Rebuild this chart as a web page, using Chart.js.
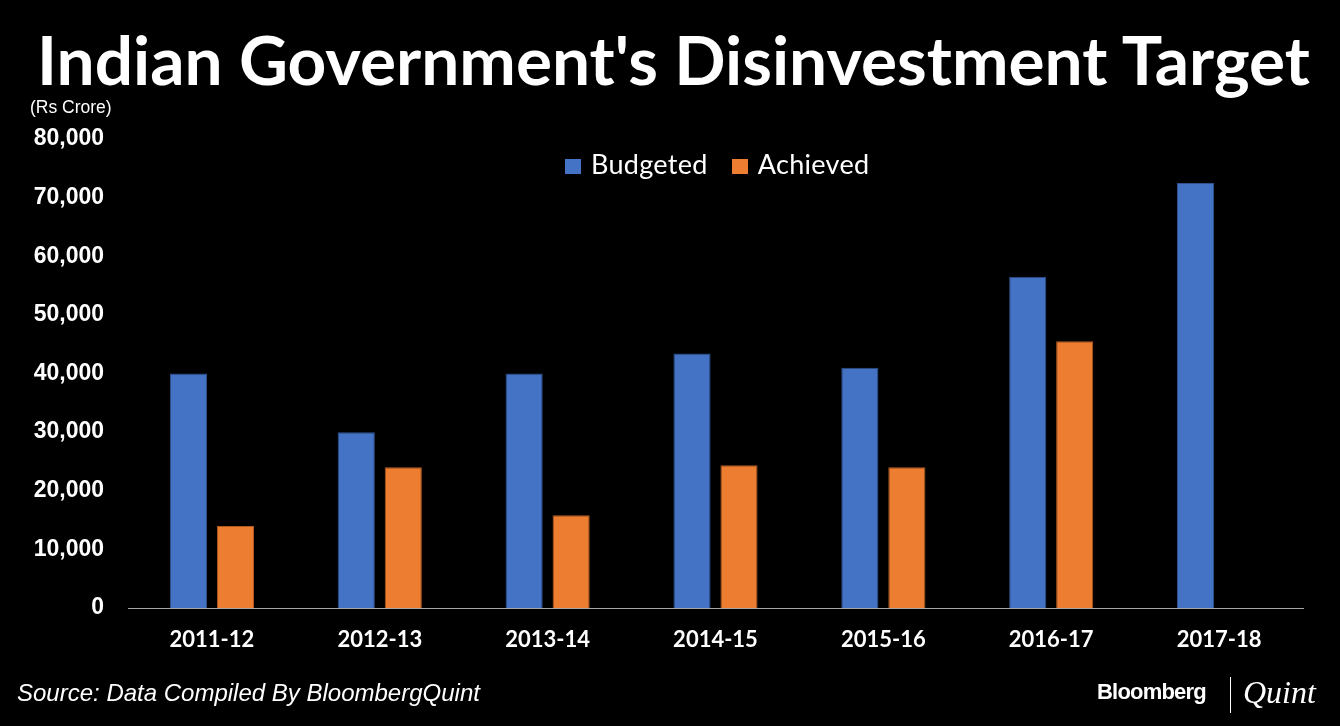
<!DOCTYPE html>
<html>
<head>
<meta charset="utf-8">
<script src="https://cdn.jsdelivr.net/npm/chart.js@4.4.1/dist/chart.umd.min.js"></script>
<style>
  html, body { margin: 0; padding: 0; background: #000; }
  #wrap { position: relative; width: 1340px; height: 726px; overflow: hidden; background: #000; }
  #chart { position: absolute; left: 0; top: 0; }
  .txt { position: absolute; color: #fff; white-space: nowrap; }
  #title { left: 37px; top: 25px; font-family: Lato, sans-serif; font-weight: 700; font-size: 62px; line-height: 1; }
  #unit { left: 30px; top: 97px; font-family: "Liberation Sans", Arial, sans-serif; font-size: 17.5px; }
  #legend { top: 147px; left: 565px; font-family: Lato, sans-serif; font-size: 27px; letter-spacing: 0.3px; }
  #legend span.item { display: inline-block; margin-right: 24px; }
  #legend span.box { display: inline-block; width: 16px; height: 15px; margin-right: 10px; vertical-align: 0px; }
  #source { left: 17px; top: 679px; font-family: "Liberation Sans", Arial, sans-serif; font-style: italic; font-size: 24px; }
  #logo { left: 1097px; top: 674px; font-size: 22px; }
  #logo .b { position: relative; top: -4px; font-family: "Liberation Sans", Arial, sans-serif; font-weight: 700; letter-spacing: -0.8px; }
  #logo .bar { display: inline-block; width: 1px; height: 36px; background: #fff; margin: 0 12px 0 24px; vertical-align: -10px; }
  #logo .q { font-family: "Liberation Serif", serif; font-style: italic; font-size: 32px; }
</style>
</head>
<body>
<div id="wrap">
  <canvas id="chart" width="1340" height="726"></canvas>
  <div class="txt" id="title">Indian Government's Disinvestment Target</div>
  <div class="txt" id="unit">(Rs Crore)</div>
  <div class="txt" id="legend"></div>
  <div class="txt" id="source">Source: Data Compiled By BloombergQuint</div>
  <div class="txt" id="logo"><span class="b">Bloomberg</span><span class="bar"></span><span class="q">Quint</span></div>
</div>
<script>
// Data (Rs Crore)
const years = ['2011-12', '2012-13', '2013-14', '2014-15', '2015-16', '2016-17', '2017-18'];
const budgeted = [40000, 30000, 40000, 43425, 41000, 56500, 72500];
const achieved = [14000, 24000, 15800, 24350, 24000, 45500, null];
const yTicks = [0, 10000, 20000, 30000, 40000, 50000, 60000, 70000, 80000];

const seriesNames = ['Budgeted', 'Achieved'];
const seriesColors = ['#4472C4', '#ED7D31'];
const seriesBorders = ['#2F528F', '#AE5A21'];

// fit the title to the width it takes in the picture
const titleEl = document.getElementById('title');
const titleWidth = 1273;
titleEl.style.fontSize = (62 * titleWidth / titleEl.getBoundingClientRect().width) + 'px';

// legend
const legendEl = document.getElementById('legend');
seriesNames.forEach((name, i) => {
    const item = document.createElement('span');
    item.className = 'item';
    item.innerHTML = '<span class="box" style="background:' + seriesColors[i] + '"></span>' + name;
    legendEl.appendChild(item);
});

const ctx = document.getElementById('chart').getContext('2d');

new Chart(ctx, {
    type: 'bar',
    data: {
        labels: years,
        datasets: [
            {
                label: seriesNames[0],
                data: budgeted,
                backgroundColor: seriesColors[0],
                borderColor: seriesBorders[0],
                borderWidth: 1,
                categoryPercentage: 0.56,
                barPercentage: 0.79,
            },
            {
                label: seriesNames[1],
                data: achieved,
                backgroundColor: seriesColors[1],
                borderColor: seriesBorders[1],
                borderWidth: 1,
                categoryPercentage: 0.56,
                barPercentage: 0.79,
            },
        ]
    },
    options: {
        responsive: false,
        animation: false,
        layout: { padding: { top: 139, right: 37, bottom: 0, left: 0 } },
        plugins: {
            legend: { display: false },
            tooltip: { enabled: false },
        },
        scales: {
            x: {
                grid: { display: false },
                border: { display: true, color: '#A6A6A6', width: 1 },
                ticks: {
                    color: '#fff',
                    padding: 11,
                    font: { family: 'Lato, sans-serif', weight: 'bold', size: 22 },
                },
                afterFit: (scale) => { scale.height = 118; },
            },
            y: {
                min: 0,
                max: 80000,
                grid: { display: false },
                border: { display: false },
                afterBuildTicks: (scale) => { scale.ticks = yTicks.map(v => ({ value: v })); },
                ticks: {
                    color: '#fff',
                    padding: 16,
                    font: { family: '"Liberation Sans", Arial, sans-serif', weight: 'bold', size: 23 },
                    callback: (v) => v.toLocaleString('en-US'),
                },
                afterFit: (scale) => { scale.width = 128; },
            }
        }
    }
});
</script>
</body>
</html>
